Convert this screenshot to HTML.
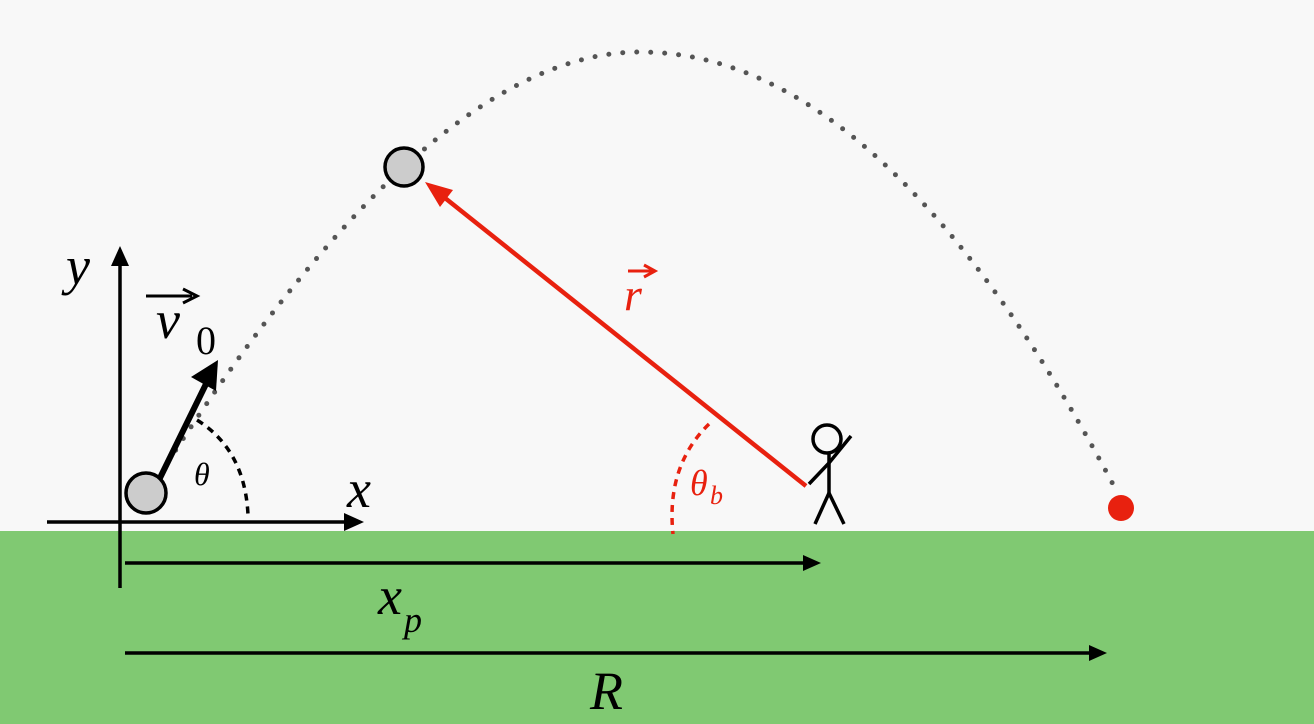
<!DOCTYPE html>
<html><head><style>html,body{margin:0;padding:0;background:#f8f8f8}svg{display:block}</style></head>
<body>
<svg width="1314" height="724" viewBox="0 0 1314 724" xmlns="http://www.w3.org/2000/svg" font-family="Liberation Serif, serif">
<rect width="1314" height="724" fill="#f8f8f8"/>
<rect x="0" y="531" width="1314" height="193" fill="#80c972"/>
<path d="M168,462 Q432,52 640,52 Q885,52 1116,490" fill="none" stroke="#555" stroke-width="5" stroke-linecap="round" stroke-dasharray="0 14"/>
<!-- axes -->
<line x1="120" y1="588" x2="120" y2="262" stroke="#000" stroke-width="3.5"/>
<path d="M111,266 L120,246 L129,266z" fill="#000"/>
<line x1="47" y1="522" x2="346" y2="522" stroke="#000" stroke-width="3.5"/>
<path d="M344,513 L364,522 L344,531z" fill="#000"/>
<line x1="125" y1="563" x2="806" y2="563" stroke="#000" stroke-width="3.5"/>
<path d="M803,555 L821,563 L803,571z" fill="#000"/>
<line x1="125" y1="653" x2="1092" y2="653" stroke="#000" stroke-width="3.5"/>
<path d="M1089,645 L1107,653 L1089,661z" fill="#000"/>
<!-- theta arc -->
<path d="M197,420 Q245,450 248,515" fill="none" stroke="#000" stroke-width="3.5" stroke-dasharray="7 6"/>
<!-- red arc -->
<path d="M709,424 Q666,466 673,534" fill="none" stroke="#e8210f" stroke-width="3.5" stroke-dasharray="7 6"/>
<!-- v0 -->
<line x1="158" y1="482" x2="206" y2="384" stroke="#000" stroke-width="6"/>
<path d="M191,377 L218,360 L216,391z" fill="#000"/>
<circle cx="146" cy="493" r="20" fill="#cccccc" stroke="#000" stroke-width="3.5"/>
<!-- red r -->
<line x1="806" y1="486" x2="440" y2="194" stroke="#e8210f" stroke-width="4.5"/>
<path d="M425,182 L453,190 L440,207z" fill="#e8210f"/>
<circle cx="404" cy="167" r="19" fill="#cccccc" stroke="#000" stroke-width="3.5"/>
<circle cx="1121" cy="508" r="13" fill="#e8210f"/>
<!-- stick figure -->
<g stroke="#000" stroke-width="3.5" fill="none">
<circle cx="827" cy="439" r="14"/>
<line x1="829" y1="453" x2="829" y2="493"/>
<line x1="829" y1="493" x2="815" y2="524"/>
<line x1="829" y1="493" x2="844" y2="524"/>
<polyline points="809,484 829,463 851,436"/>
</g>
<!-- labels -->
<g font-style="italic" fill="#000">
<text x="66" y="284" font-size="54">y</text>
<text x="347" y="507" font-size="54">x</text>
<text x="156" y="338" font-size="54">v</text>
<text x="194" y="485" font-size="32">θ</text>
<text x="378" y="614" font-size="54">x</text>
<text x="404" y="632" font-size="36">p</text>
<text x="590" y="709" font-size="54">R</text>
<text x="624" y="310" font-size="46" fill="#e8210f">r</text>
<text x="690" y="495" font-size="36" fill="#e8210f">θ</text>
<text x="710" y="504" font-size="26" fill="#e8210f">b</text>
</g>
<text x="196" y="354" font-size="40" fill="#000">0</text>
<line x1="146" y1="296" x2="192" y2="296" stroke="#000" stroke-width="3"/>
<path d="M183,289 L197,296 L183,303" fill="none" stroke="#000" stroke-width="3"/>
<line x1="628" y1="271" x2="652" y2="271" stroke="#e8210f" stroke-width="3"/>
<path d="M644,265 L655,271 L644,277" fill="none" stroke="#e8210f" stroke-width="3"/>
</svg>
</body></html>
